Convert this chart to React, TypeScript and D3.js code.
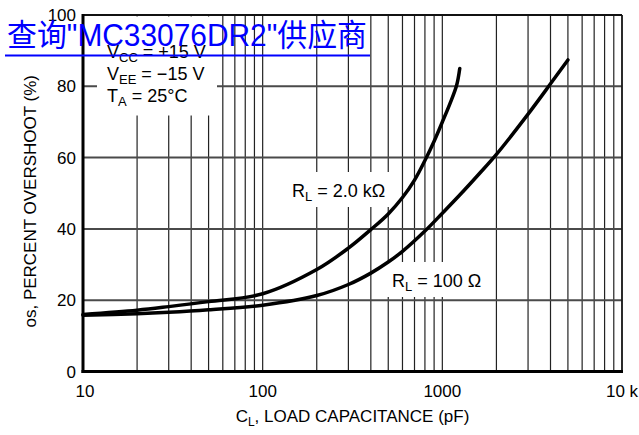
import React from "react";
import * as d3 from "d3";

const rl2kCap = [10, 20, 30, 50, 100, 200, 300, 400, 500, 600, 700, 800, 900, 1000, 1100, 1200, 1250];
const rl2kOvershoot = [16, 17.2, 18.2, 19.6, 21.8, 28.6, 34.6, 39.8, 44.2, 48.8, 53.7, 59.2, 64.6, 70, 75, 80.2, 85];

const rl100Cap = [10, 20, 30, 50, 100, 200, 300, 400, 500, 600, 800, 1000, 1250, 1600, 2000, 3000, 4000, 5000];
const rl100Overshoot = [15.8, 16.2, 16.6, 17.3, 18.6, 21.3, 24.4, 27.6, 30.7, 33.7, 39.4, 44.4, 49.5, 55.4, 60.9, 72.2, 80.7, 87.4];

const yTicks = [0, 20, 40, 60, 80, 100];
const xTickValues = [10, 100, 1000, 10000];
const xTickLabels = ["10", "100", "1000", "10 k"];

const W = 639;
const H = 435;
const L = 83, R = 622, T = 15, B = 371.5;

export default function App() {
  const x = d3.scaleLog().domain([10, 10000]).range([L, R]);
  const y = d3.scaleLinear().domain([0, 100]).range([B, T]);

  const minor: number[] = [];
  for (let k = 1; k <= 3; k++) {
    for (let m = 1; m <= 9; m++) minor.push(m * Math.pow(10, k));
  }
  minor.push(10000);

  const line = d3
    .line<[number, number]>()
    .x((d) => x(d[0]))
    .y((d) => y(d[1]))
    .curve(d3.curveCatmullRom.alpha(0.5));

  const s2k = rl2kCap.map((c, i) => [c, rl2kOvershoot[i]] as [number, number]);
  const s100 = rl100Cap.map((c, i) => [c, rl100Overshoot[i]] as [number, number]);

  const font = "'Liberation Sans', Arial, sans-serif";

  return (
    <svg width={W} height={H} style={{ position: "absolute", left: 0, top: 0, background: "#fff" }}>
      <rect x={0} y={0} width={W} height={H} fill="#fff" />
      {/* vertical grid */}
      {minor.map((v) => (
        <line key={"v" + v} x1={x(v)} x2={x(v)} y1={T} y2={B} stroke="#222" strokeWidth={1.2} />
      ))}
      {/* horizontal grid */}
      {yTicks.filter((t) => t > 0 && t < 100).map((t) => (
        <line key={"h" + t} x1={L} x2={R} y1={y(t)} y2={y(t)} stroke="#4a4a4a" strokeWidth={2} />
      ))}
      {/* annotation backgrounds */}
      <rect x={97} y={T + 1.5} width={120} height={99} fill="#fff" />
      <rect x={285} y={172} width={110} height={35} fill="#fff" />
      <rect x={380} y={262} width={105} height={35} fill="#fff" />
      {/* frame */}
      <line x1={L} x2={R} y1={T} y2={T} stroke="#111" strokeWidth={2} />
      <line x1={R} x2={R} y1={T} y2={B} stroke="#111" strokeWidth={1.5} />
      <line x1={L} x2={L} y1={T - 1} y2={B + 1.5} stroke="#000" strokeWidth={3} />
      <line x1={L - 1.5} x2={R + 1} y1={B} y2={B} stroke="#000" strokeWidth={3} />
      {/* curves */}
      <path d={line(s100) || ""} fill="none" stroke="#000" strokeWidth={3.5} strokeLinecap="round" />
      <path d={line(s2k) || ""} fill="none" stroke="#000" strokeWidth={3.5} strokeLinecap="round" />
      {/* y tick labels */}
      {yTicks.map((t) => (
        <text key={"yt" + t} x={76} y={y(t)} dy="0.36em" textAnchor="end" fontFamily={font} fontSize={17} fill="#000">
          {t}
        </text>
      ))}
      {/* x tick labels */}
      {xTickValues.map((v, i) => (
        <text key={"xt" + v} x={x(v) + (i === 0 ? 2 : 0)} y={397} textAnchor="middle" fontFamily={font} fontSize={17} fill="#000">
          {xTickLabels[i]}
        </text>
      ))}
      {/* axis titles */}
      <text x={(L + R) / 2} y={422} textAnchor="middle" fontFamily={font} fontSize={17} fill="#000">
        C<tspan fontSize={12} dy={4}>L</tspan>
        <tspan dy={-4}>, LOAD CAPACITANCE (pF)</tspan>
      </text>
      <text
        transform={`translate(36, ${(T + B) / 2 + 8}) rotate(-90)`}
        textAnchor="middle"
        fontFamily={font}
        fontSize={17}
        fill="#000"
      >
        os, PERCENT OVERSHOOT (%)
      </text>
      {/* conditions */}
      <g fontFamily={font} fontSize={18} fill="#000">
        <text x={107} y={58}>
          V<tspan fontSize={13} dy={4}>CC</tspan>
          <tspan dy={-4}> = +15 V</tspan>
        </text>
        <text x={107} y={80}>
          V<tspan fontSize={13} dy={4}>EE</tspan>
          <tspan dy={-4}> = −15 V</tspan>
        </text>
        <text x={107} y={102}>
          T<tspan fontSize={13} dy={4}>A</tspan>
          <tspan dy={-4}> = 25°C</tspan>
        </text>
        <text x={292} y={197}>
          R<tspan fontSize={13} dy={4}>L</tspan>
          <tspan dy={-4}> = 2.0 kΩ</tspan>
        </text>
        <text x={392} y={287}>
          R<tspan fontSize={13} dy={4}>L</tspan>
          <tspan dy={-4}> = 100 Ω</tspan>
        </text>
      </g>
      {/* watermark link */}
      <text
        x={7}
        y={46}
        fontFamily="'Liberation Sans', Arial, 'Noto Sans CJK SC', sans-serif"
        fontSize={31}
        fill="#0000ff"
        textLength={360}
        lengthAdjust="spacingAndGlyphs"
      >
        查询"MC33076DR2"供应商
      </text>
      <line x1={5} x2={370} y1={55.5} y2={55.5} stroke="#0000ff" strokeWidth={2} />
    </svg>
  );
}
